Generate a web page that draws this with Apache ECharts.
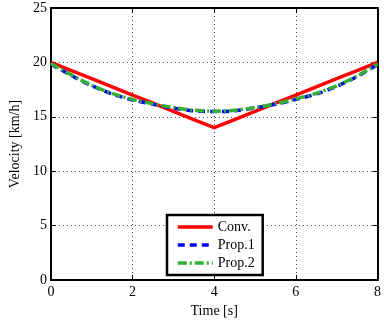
<!DOCTYPE html>
<html><head><meta charset="utf-8">
<script src="https://cdn.jsdelivr.net/npm/echarts@6/dist/echarts.min.js"></script>
<style>html,body{margin:0;padding:0;background:#fff}#c{width:384px;height:324px}</style>
</head><body><div id="c"></div>
<script>
var time = [0,0.5,1,1.5,2,2.5,3,3.5,4,4.5,5,5.5,6,6.5,7,7.5,8];
var conv = [20,19.25,18.5,17.75,17,16.25,15.5,14.75,14,14.75,15.5,16.25,17,17.75,18.5,19.25,20];
var prop1 = [19.85,18.8,17.85,17.1,16.55,16.15,15.8,15.55,15.48,15.55,15.82,16.15,16.6,17.1,17.8,18.7,19.8];
var prop2 = [19.9,18.85,17.9,17.15,16.6,16.2,15.85,15.6,15.52,15.6,15.85,16.2,16.65,17.15,17.85,18.75,19.85];
var seriesNames = ['Conv.','Prop.1','Prop.2'];
var xTicks = [0,2,4,6,8];
var yTicks = [0,5,10,15,20,25];

function pairs(v){ return time.map(function(t,i){ return [t, v[i]]; }); }
var font = 'Liberation Serif';
var chart = echarts.init(document.getElementById('c'));
var tickStyle = {show:true, inside:true, length:5, lineStyle:{color:'#000', width:1}};
var axisLine = {show:true, onZero:false, lineStyle:{color:'#000', width:2}};
var lbl = {color:'#000', fontFamily:font, fontSize:14};
chart.setOption({
  animation:false,
  backgroundColor:'#fff',
  grid:{left:50, right:4, top:8, bottom:44, show:false},
  legend:{
    data:seriesNames,
    orient:'vertical', left:167, top:215,
    itemWidth:35, itemHeight:14, itemGap:4, padding:[5,8,5,9],
    borderColor:'#000', borderWidth:2.5, backgroundColor:'#fff', borderRadius:0,
    itemStyle:{opacity:0},
    lineStyle:{opacity:1, width:3.5},
    textStyle:{color:'#000', fontFamily:font, fontSize:14}
  },
  xAxis:[{
    type:'value', min:xTicks[0], max:xTicks[xTicks.length-1], interval:2, position:'bottom',
    name:'Time [s]', nameLocation:'middle', nameGap:18,
    nameTextStyle:{color:'#000', fontFamily:font, fontSize:14},
    axisLine:axisLine, axisTick:tickStyle,
    axisLabel:Object.assign({margin:5}, lbl),
    splitLine:{show:true, lineStyle:{color:'#444', width:1, type:[1,3]}}
  },{
    type:'value', min:xTicks[0], max:xTicks[xTicks.length-1], interval:2, position:'top',
    axisLine:axisLine, axisTick:tickStyle, axisLabel:{show:false}, splitLine:{show:false}
  }],
  yAxis:[{
    type:'value', min:yTicks[0], max:yTicks[yTicks.length-1], interval:5, position:'left',
    name:'Velocity [km/h]', nameLocation:'middle', nameGap:22, nameRotate:90,
    nameTextStyle:{color:'#000', fontFamily:font, fontSize:14},
    axisLine:axisLine, axisTick:tickStyle,
    axisLabel:Object.assign({margin:4}, lbl),
    splitLine:{show:true, lineStyle:{color:'#444', width:1, type:[1,3]}}
  },{
    type:'value', min:yTicks[0], max:yTicks[yTicks.length-1], interval:5, position:'right',
    axisLine:axisLine, axisTick:tickStyle, axisLabel:{show:false}, splitLine:{show:false}
  }],
  series:[
    {name:seriesNames[0], type:'line', data:pairs(conv), symbol:'none',
     lineStyle:{color:'#ff0000', width:3.5, type:'solid'}, itemStyle:{color:'#ff0000'}},
    {name:seriesNames[1], type:'line', data:pairs(prop1), symbol:'none', smooth:0.3,
     lineStyle:{color:'#0000ff', width:3.5, type:[7,5]}, itemStyle:{color:'#0000ff'}},
    {name:seriesNames[2], type:'line', data:pairs(prop2), symbol:'none', smooth:0.3,
     lineStyle:{color:'#33b033', width:3.5, type:[9,3,2,3]}, itemStyle:{color:'#33b033'}}
  ]
});
</script></body></html>
